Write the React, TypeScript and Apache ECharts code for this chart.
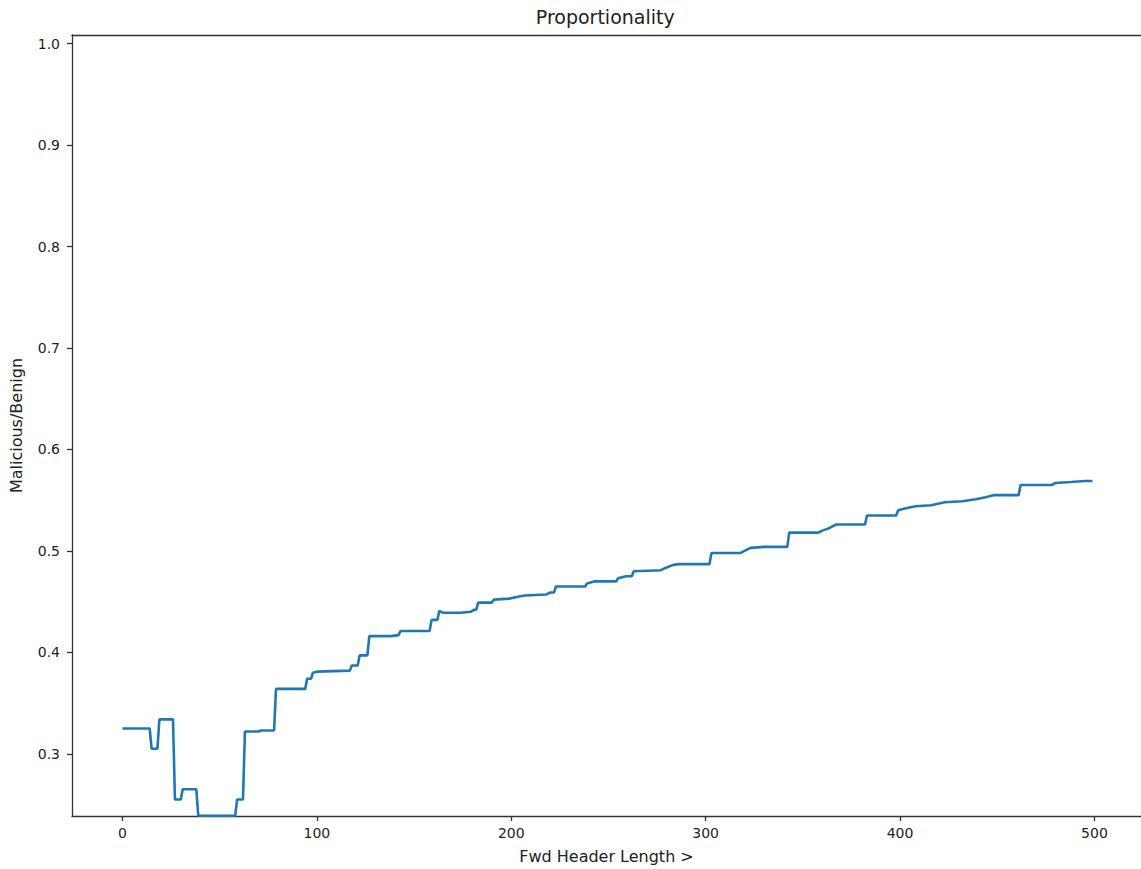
import React, { useEffect, useRef } from "react";
import * as echarts from "echarts";

const title = "Proportionality";
const xLabel = "Fwd Header Length >";
const yLabel = "Malicious/Benign";
const xTicks = [0, 100, 200, 300, 400, 500];
const yTicks = [0.3, 0.4, 0.5, 0.6, 0.7, 0.8, 0.9, 1.0];

const xs = [
  0, 14, 15, 18, 19, 26, 27, 30, 31, 38, 39, 58, 59, 62, 63, 70, 71, 78, 79, 94,
  95, 97, 98, 100, 117, 118, 121, 122, 126, 127, 138, 142, 143, 158, 159, 162, 163, 165, 174, 179,
  181, 182, 183, 190, 191, 199, 204, 207, 218, 220, 222, 223, 238, 239, 243, 254, 255, 259, 262, 263,
  277, 279, 283, 286, 302, 303, 318, 320, 323, 330, 342, 343, 358, 360, 363, 367, 382, 383, 398, 399,
  403, 408, 416, 423, 432, 439, 444, 448, 461, 462, 478, 480, 488, 495, 499,
];
const ys = [
  0.325, 0.325, 0.305, 0.305, 0.334, 0.334, 0.255, 0.255, 0.265, 0.265, 0.239, 0.239, 0.255, 0.255, 0.322, 0.322, 0.323, 0.323, 0.364, 0.364,
  0.374, 0.374, 0.38, 0.381, 0.382, 0.387, 0.387, 0.397, 0.397, 0.416, 0.416, 0.417, 0.421, 0.421, 0.432, 0.432, 0.441, 0.439, 0.439, 0.44,
  0.442, 0.442, 0.449, 0.449, 0.452, 0.453, 0.455, 0.456, 0.457, 0.459, 0.459, 0.465, 0.465, 0.468, 0.47, 0.47, 0.473, 0.475, 0.475, 0.48,
  0.481, 0.483, 0.486, 0.487, 0.487, 0.498, 0.498, 0.5, 0.503, 0.504, 0.504, 0.518, 0.518, 0.52, 0.522, 0.526, 0.526, 0.535, 0.535, 0.54,
  0.542, 0.544, 0.545, 0.548, 0.549, 0.551, 0.553, 0.555, 0.555, 0.565, 0.565, 0.567, 0.568, 0.569, 0.569,
];

export default function App() {
  const ref = useRef<HTMLDivElement>(null);
  useEffect(() => {
    if (!ref.current) return;
    const chart = echarts.init(ref.current, null, { renderer: "svg" });
    const font = "DejaVu Sans";
    const gridLeft = 71;
    const gridTop = 35;
    const gridW = 1072.5;
    const gridH = 783;
    const axisColor = "#333";
    chart.setOption({
      animation: false,
      backgroundColor: "#ffffff",
      textStyle: { fontFamily: font },
      grid: {
        left: gridLeft,
        top: gridTop,
        width: gridW,
        height: gridH,
        show: false,
      },
      graphic: [
        {
          type: "text",
          x: gridLeft + gridW / 2 - 2,
          y: 17,
          style: {
            text: title,
            fontFamily: font,
            fontSize: 19,
            fill: "#222",
            textAlign: "center",
            textVerticalAlign: "middle",
          },
        },
      ],
      xAxis: [
        {
          type: "value",
          min: -25.95,
          max: 523.95,
          name: xLabel,
          nameLocation: "middle",
          nameGap: 32,
          nameTextStyle: { fontFamily: font, fontSize: 16, color: "#222" },
          splitLine: { show: false },
          axisLine: { show: true, onZero: false, lineStyle: { color: axisColor, width: 1.3 } },
          axisTick: { show: true, length: 5, lineStyle: { color: axisColor, width: 1.3 }, customValues: xTicks },
          axisLabel: {
            margin: 10,
            fontFamily: font,
            fontSize: 14,
            color: "#222",
            customValues: xTicks,
            formatter: (v: number) => String(Math.round(v)),
          },
        },
        {
          type: "value",
          position: "top",
          min: -25.95,
          max: 523.95,
          splitLine: { show: false },
          axisLine: { show: true, onZero: false, lineStyle: { color: axisColor, width: 1.3 } },
          axisTick: { show: false },
          axisLabel: { show: false },
        },
      ],
      yAxis: {
        type: "value",
        min: 0.2387,
        max: 1.0086,
        name: yLabel,
        nameLocation: "middle",
        nameGap: 48,
        nameTextStyle: { fontFamily: font, fontSize: 16, color: "#222" },
        splitLine: { show: false },
        axisLine: { show: true, onZero: false, lineStyle: { color: axisColor, width: 1.3 } },
        axisTick: { show: true, length: 5, lineStyle: { color: axisColor, width: 1.3 }, customValues: yTicks },
        axisLabel: {
          margin: 12,
          fontFamily: font,
          fontSize: 14,
          color: "#222",
          customValues: yTicks,
          formatter: (v: number) => v.toFixed(1),
        },
      },
      series: [
        {
          type: "line",
          xAxisIndex: 0,
          data: xs.map((x, i) => [x, ys[i]]),
          showSymbol: false,
          symbol: "none",
          lineStyle: { color: "#1f77b4", width: 2.6 },
          clip: true,
        },
      ],
    });
    return () => chart.dispose();
  }, []);
  return (
    <div
      ref={ref}
      style={{ position: "fixed", left: 0, top: 0, width: 1141, height: 869 }}
    />
  );
}
